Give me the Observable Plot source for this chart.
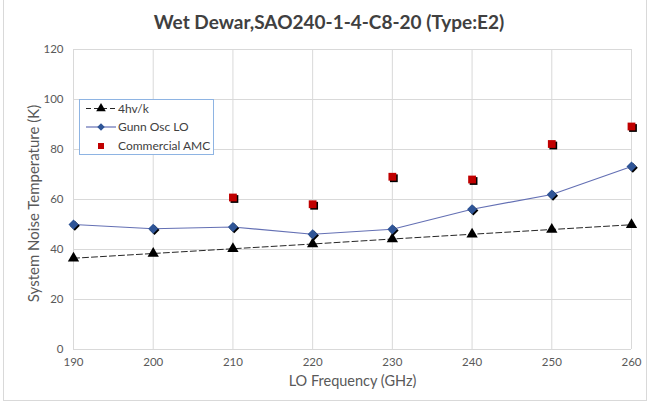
<!DOCTYPE html>
<html>
<head>
<meta charset="utf-8">
<script src="https://cdn.jsdelivr.net/npm/d3@7"></script>
<script src="https://cdn.jsdelivr.net/npm/@observablehq/plot@0.6"></script>
<style>
  html, body { margin: 0; padding: 0; background: #fff; }
  #wrap { position: relative; width: 650px; height: 406px; overflow: hidden; font-family: Lato, "Open Sans", sans-serif; }
  #border { position: absolute; left: 3px; top: -2px; width: 644px; height: 403px; border: 1px solid #d9d9d9; box-sizing: border-box; pointer-events: none; }
  #title { height: 40px; line-height: 40px; padding-top: 2px; box-sizing: border-box; text-align: center; font-size: 19px; font-weight: bold; color: #404040; padding-left: 8px; }
  #legend { position: absolute; left: 79px; top: 99px; width: 135px; height: 56px; border: 1px solid #8eb4e3; background: #fff; box-sizing: border-box; }
  #legend svg { position: absolute; left: 0; top: 0; }
</style>
</head>
<body>
<div id="wrap">
  <div id="title">Wet Dewar,SAO240-1-4-C8-20 (Type:E2)</div>
  <div id="chart"></div>
  <div id="legend"></div>
  <div id="border"></div>
</div>
<script>
const freq = [190, 200, 210, 220, 230, 240, 250, 260];
const hvk = [36.5, 38.4, 40.3, 42.2, 44.2, 46.1, 48.0, 49.9];
const gunn = [50, 48.3, 49, 46.1, 48.1, 56.1, 62, 73.2];
const amcFreq = [210, 220, 230, 240, 250, 260];
const amc = [60.8, 58.1, 69.1, 68.0, 82.2, 89.2];
const yTicks = [0, 20, 40, 60, 80, 100, 120];
const seriesNames = ["4hv/k", "Gunn Osc LO", "Commercial AMC"];
const xTitle = "LO Frequency (GHz)";
const yTitle = "System Noise Temperature (K)";

const hvkData = freq.map((f, i) => ({f, v: hvk[i]}));
const gunnData = freq.map((f, i) => ({f, v: gunn[i]}));
const amcData = amcFreq.map((f, i) => ({f, v: amc[i]}));

const chart = Plot.plot({
  width: 650,
  height: 366,
  marginLeft: 73,
  marginRight: 19,
  marginTop: 9,
  marginBottom: 57,
  x: {domain: [190, 260]},
  y: {domain: [0, 120]},
  style: {fontFamily: "Lato, 'Open Sans', sans-serif", fontSize: "11.5px", color: "#595959", background: "transparent"},
  marks: [
    Plot.gridX(freq, {stroke: "#d9d9d9", strokeOpacity: 1}),
    Plot.gridY(yTicks, {stroke: "#d9d9d9", strokeOpacity: 1}),
    Plot.axisX({ticks: freq, tickSize: 0, tickPadding: 8, label: null, fill: "#595959"}),
    Plot.axisY({ticks: yTicks, tickSize: 0, tickPadding: 10, label: null, fill: "#595959"}),
    Plot.text([xTitle], {frameAnchor: "bottom", dy: 36, fontSize: 14.5, fill: "#595959"}),
    Plot.text([yTitle], {frameAnchor: "left", textAnchor: "middle", dx: -39, dy: 4, rotate: -90, fontSize: 15, fill: "#595959"}),
    Plot.line(hvkData, {x: "f", y: "v", stroke: "#262626", strokeWidth: 1, strokeDasharray: "6,3"}),
    Plot.line(gunnData, {x: "f", y: "v", stroke: "#6470b4", strokeWidth: 1.2}),
    Plot.dot(hvkData, {x: "f", y: "v", symbol: "triangle", r: 4.2, fill: "#000"}),
    Plot.dot(gunnData, {x: "f", y: "v", symbol: "diamond2", r: 4.5, fill: "#000", stroke: "none", dx: 1.3, dy: 1.3}),
    Plot.dot(gunnData, {x: "f", y: "v", symbol: "diamond2", r: 4.5, fill: "#2f5597", stroke: "none"}),
    Plot.dot(amcData, {x: "f", y: "v", symbol: "square", r: 4.4, fill: "#000", dx: 1.5, dy: 1.5}),
    Plot.dot(amcData, {x: "f", y: "v", symbol: "square", r: 4.4, fill: "#c00000"})
  ]
});
document.getElementById("chart").appendChild(chart);

// Legend
const lg = d3.select("#legend").append("svg").attr("width", 135).attr("height", 56);
const rows = [8.5, 27, 46];
const lx = 21;
lg.append("line").attr("x1", 6).attr("x2", 36).attr("y1", rows[0]).attr("y2", rows[0])
  .attr("stroke", "#262626").attr("stroke-dasharray", "5,3");
lg.append("path").attr("d", d3.symbol(d3.symbolTriangle, 40)()).attr("transform", `translate(${lx},${rows[0]})`).attr("fill", "#000");
lg.append("line").attr("x1", 6).attr("x2", 36).attr("y1", rows[1]).attr("y2", rows[1])
  .attr("stroke", "#6470b4").attr("stroke-width", 1.2);
lg.append("path").attr("d", d3.symbol(d3.symbolDiamond2, 36)()).attr("transform", `translate(${lx},${rows[1]})`).attr("fill", "#2f5597");
lg.append("rect").attr("x", lx - 3).attr("y", rows[2] - 3).attr("width", 6).attr("height", 6).attr("fill", "#c00000");
lg.selectAll("text.lab").data(seriesNames).join("text")
  .attr("x", 38).attr("y", (d, i) => rows[i]).attr("dy", "0.35em")
  .attr("font-size", 12).attr("fill", "#404040")
  .attr("font-family", "Lato, 'Open Sans', sans-serif")
  .text(d => d);
</script>
</body>
</html>
